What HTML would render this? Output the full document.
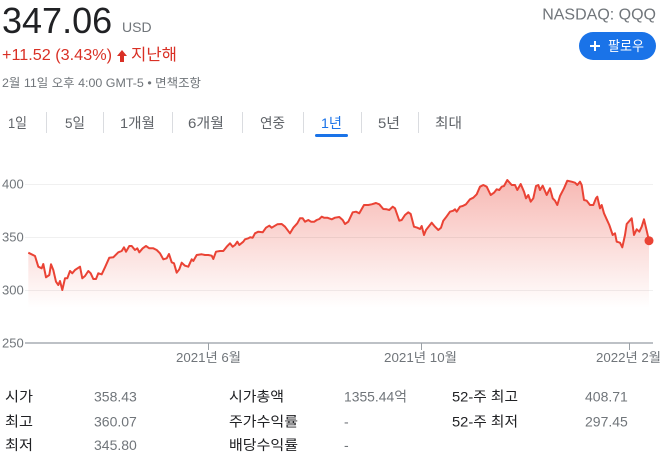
<!DOCTYPE html>
<html><head><meta charset="utf-8"><style>
html,body{margin:0;padding:0;background:#fff;width:667px;height:469px;overflow:hidden}
svg{display:block}
text{font-family:"Liberation Sans","Noto Sans CJK KR",sans-serif}
</style></head><body>
<svg width="667" height="469" viewBox="0 0 667 469" xmlns="http://www.w3.org/2000/svg">
<defs>
<linearGradient id="fg" gradientUnits="userSpaceOnUse" x1="0" y1="178" x2="0" y2="308">
<stop offset="0" stop-color="#ea4335" stop-opacity="0.38"/>
<stop offset="1" stop-color="#ea4335" stop-opacity="0"/>
</linearGradient>
</defs>
<!-- header -->
<text x="2" y="33" font-size="36" fill="#202124">347.06</text>
<text x="122" y="32" font-size="14" fill="#70757a">USD</text>
<text x="656" y="19.5" font-size="16" fill="#70757a" text-anchor="end">NASDAQ: QQQ</text>
<rect x="579" y="32" width="77" height="28" rx="14" fill="#1a73e8"/>
<path d="M590 46H600M595 41V51" stroke="#fff" stroke-width="2"/>
<text x="608" y="51" font-size="14" fill="#fff" textLength="36" lengthAdjust="spacingAndGlyphs">팔로우</text>
<text x="2" y="60" font-size="16" fill="#d93025" textLength="110" lengthAdjust="spacingAndGlyphs">+11.52 (3.43%)</text>
<path d="M122 50L127 56H124V62H120V56H117Z" fill="#d93025"/>
<text x="131" y="60" font-size="16" fill="#d93025" textLength="46" lengthAdjust="spacingAndGlyphs">지난해</text>
<text x="2" y="87" font-size="12" fill="#70757a" textLength="199" lengthAdjust="spacingAndGlyphs">2월 11일 오후 4:00 GMT-5 • 면책조항</text>
<!-- tabs -->
<g font-size="14" fill="#5f6368">
<text x="8" y="128" textLength="19" lengthAdjust="spacingAndGlyphs">1일</text>
<text x="65" y="128" textLength="20" lengthAdjust="spacingAndGlyphs">5일</text>
<text x="120" y="128" textLength="35" lengthAdjust="spacingAndGlyphs">1개월</text>
<text x="188" y="128" textLength="36" lengthAdjust="spacingAndGlyphs">6개월</text>
<text x="260" y="128" textLength="25" lengthAdjust="spacingAndGlyphs">연중</text>
<text x="321" y="128" textLength="21" lengthAdjust="spacingAndGlyphs" fill="#1a73e8">1년</text>
<text x="378" y="128" textLength="22" lengthAdjust="spacingAndGlyphs">5년</text>
<text x="435" y="128" textLength="27" lengthAdjust="spacingAndGlyphs">최대</text>
</g>
<g stroke="#dadce0" stroke-width="1">
<line x1="46.5" y1="112" x2="46.5" y2="133"/>
<line x1="103.5" y1="112" x2="103.5" y2="133"/>
<line x1="172.5" y1="112" x2="172.5" y2="133"/>
<line x1="242.5" y1="112" x2="242.5" y2="133"/>
<line x1="303.5" y1="112" x2="303.5" y2="133"/>
<line x1="361.5" y1="112" x2="361.5" y2="133"/>
<line x1="418.5" y1="112" x2="418.5" y2="133"/>
</g>
<rect x="315" y="134" width="33" height="3" rx="1.5" fill="#1a73e8"/>
<!-- chart -->
<polygon fill="url(#fg)" points="28.3,252.7 35,256 38.3,266.7 41.7,268.3 43.3,264 46,277.3 49.3,275 51,264.3 53.3,270 56,281.7 58.3,285 60,281 62.3,290 65,278.3 67.3,278.3 70,271 72.3,273.3 75,270 80,266.7 82.3,278.3 85,276 88.3,271 90.7,273.3 93.3,279 96,279 98.3,273.3 101.7,274.3 105,267.3 109.3,257.7 113.3,257.3 118.3,252.3 121.7,251 124,247.3 126,251.7 129.3,246 131.7,246 135,250 137.3,248.3 139.3,252.3 142.7,248.3 146,246 149.3,248.3 153.3,248.3 156.7,250 160,253.3 163.3,259.3 166.7,258.3 169,254 171.7,262.3 174,263.3 176.7,272.7 179.3,269.3 181.7,262.7 185,265.7 188.3,266.7 191.7,259.3 193.3,261 196.7,255 201.7,254.3 205,255 208.3,255 211.7,255.7 213.3,259 216,251.7 220,251 223.3,251 226.7,246.7 230,243.3 232.7,246.7 235,245 237.3,241.7 239.3,245 243.3,241.7 245,239.3 248.3,238.3 250,237.3 252.7,237.7 255,233.3 258.3,231.7 262.7,232.3 266,227.7 269.3,225.7 271.7,227.7 275,225.7 277.3,224.3 281.7,224 285,226.7 290,233.3 293.3,227.7 297.3,223.3 300,218.3 302.7,218.3 305,221.7 308.3,220 311,221.7 314.3,221.7 316.7,220 319.3,219 321.7,216.7 324,217.7 327.3,217.7 331.7,219.3 335,217.7 339.3,217 342.7,220 345,224 348.3,221.7 352.7,212.3 356,211.7 359.3,213.3 364,205 368.3,205 371.7,204.3 376,203 379.3,204.3 383.3,209 386.7,209.3 389.3,210 392.7,206.7 395,208.3 399.3,220.7 401.7,220 405,215 408.3,212.3 410.7,214 414,226.7 417.3,227.7 420,229 421.7,226 424,235 426,230 431.7,222.7 435,226.7 438.3,230 441,227.7 443.3,220.7 446,217.3 450,211.7 453.3,210.7 455,209.3 456.7,211.7 460,206.7 462.7,206 466,204.3 470,199.3 473.3,197.7 476.7,194.3 480,186.7 483.3,185 486.7,186.7 490.7,195 494,192.7 496.7,189.3 499.3,190 501.7,186.7 504,186 507.3,180 511.7,185 515,185 517.3,190 520.7,184 524,191.7 526,198.3 528.3,195 530.7,201.7 533.3,198.3 536,186 538.3,185 540,190 542.7,185.7 546.7,195 550,188.3 552.7,198.3 555,200.7 557.3,205 560,196 564,188.3 567.3,180.7 571.7,181.7 575,182.7 577.3,185 580,181.7 581.7,185 584,200 586.7,200.7 590,205 593.3,205 596,198.3 597.3,196.7 600,208.3 601.7,205 604,213.3 606.7,219.3 609.3,225 612.7,235 615,233.3 616.7,241.7 620,242.7 622.3,247.3 625,235 626.7,224 631.7,218.3 634,235 636.7,229.3 639.3,231.7 641.7,226.7 644,219.3 646.7,230.7 649,240.7 649,342 28.3,342"/>
<g stroke="#000" stroke-opacity="0.06" stroke-width="1">
<line x1="25" y1="184.5" x2="653" y2="184.5"/>
<line x1="25" y1="237.5" x2="653" y2="237.5"/>
<line x1="25" y1="290.5" x2="653" y2="290.5"/>
</g>
<polyline fill="none" stroke="#ea4335" stroke-width="2" stroke-linejoin="round" points="28.3,252.7 35,256 38.3,266.7 41.7,268.3 43.3,264 46,277.3 49.3,275 51,264.3 53.3,270 56,281.7 58.3,285 60,281 62.3,290 65,278.3 67.3,278.3 70,271 72.3,273.3 75,270 80,266.7 82.3,278.3 85,276 88.3,271 90.7,273.3 93.3,279 96,279 98.3,273.3 101.7,274.3 105,267.3 109.3,257.7 113.3,257.3 118.3,252.3 121.7,251 124,247.3 126,251.7 129.3,246 131.7,246 135,250 137.3,248.3 139.3,252.3 142.7,248.3 146,246 149.3,248.3 153.3,248.3 156.7,250 160,253.3 163.3,259.3 166.7,258.3 169,254 171.7,262.3 174,263.3 176.7,272.7 179.3,269.3 181.7,262.7 185,265.7 188.3,266.7 191.7,259.3 193.3,261 196.7,255 201.7,254.3 205,255 208.3,255 211.7,255.7 213.3,259 216,251.7 220,251 223.3,251 226.7,246.7 230,243.3 232.7,246.7 235,245 237.3,241.7 239.3,245 243.3,241.7 245,239.3 248.3,238.3 250,237.3 252.7,237.7 255,233.3 258.3,231.7 262.7,232.3 266,227.7 269.3,225.7 271.7,227.7 275,225.7 277.3,224.3 281.7,224 285,226.7 290,233.3 293.3,227.7 297.3,223.3 300,218.3 302.7,218.3 305,221.7 308.3,220 311,221.7 314.3,221.7 316.7,220 319.3,219 321.7,216.7 324,217.7 327.3,217.7 331.7,219.3 335,217.7 339.3,217 342.7,220 345,224 348.3,221.7 352.7,212.3 356,211.7 359.3,213.3 364,205 368.3,205 371.7,204.3 376,203 379.3,204.3 383.3,209 386.7,209.3 389.3,210 392.7,206.7 395,208.3 399.3,220.7 401.7,220 405,215 408.3,212.3 410.7,214 414,226.7 417.3,227.7 420,229 421.7,226 424,235 426,230 431.7,222.7 435,226.7 438.3,230 441,227.7 443.3,220.7 446,217.3 450,211.7 453.3,210.7 455,209.3 456.7,211.7 460,206.7 462.7,206 466,204.3 470,199.3 473.3,197.7 476.7,194.3 480,186.7 483.3,185 486.7,186.7 490.7,195 494,192.7 496.7,189.3 499.3,190 501.7,186.7 504,186 507.3,180 511.7,185 515,185 517.3,190 520.7,184 524,191.7 526,198.3 528.3,195 530.7,201.7 533.3,198.3 536,186 538.3,185 540,190 542.7,185.7 546.7,195 550,188.3 552.7,198.3 555,200.7 557.3,205 560,196 564,188.3 567.3,180.7 571.7,181.7 575,182.7 577.3,185 580,181.7 581.7,185 584,200 586.7,200.7 590,205 593.3,205 596,198.3 597.3,196.7 600,208.3 601.7,205 604,213.3 606.7,219.3 609.3,225 612.7,235 615,233.3 616.7,241.7 620,242.7 622.3,247.3 625,235 626.7,224 631.7,218.3 634,235 636.7,229.3 639.3,231.7 641.7,226.7 644,219.3 646.7,230.7 649,240.7"/>
<circle cx="649" cy="240.7" r="4.5" fill="#ea4335"/>
<!-- axis -->
<line x1="25" y1="343" x2="653" y2="343" stroke="#bdc1c6" stroke-width="2"/>
<g stroke="#9aa0a6" stroke-width="1">
<line x1="208.5" y1="343" x2="208.5" y2="350"/>
<line x1="421.5" y1="343" x2="421.5" y2="350"/>
<line x1="629.5" y1="343" x2="629.5" y2="350"/>
</g>
<g font-size="13" fill="#70757a">
<text x="2" y="188.5">400</text>
<text x="2" y="241.5">350</text>
<text x="2" y="294.5">300</text>
<text x="2" y="347.5">250</text>
<text x="176" y="362" textLength="65" lengthAdjust="spacingAndGlyphs">2021년 6월</text>
<text x="384" y="362" textLength="73" lengthAdjust="spacingAndGlyphs">2021년 10월</text>
<text x="596" y="362" textLength="65" lengthAdjust="spacingAndGlyphs">2022년 2월</text>
</g>
<!-- stats -->
<g font-size="14">
<g fill="#202124">
<text x="5" y="401.5" textLength="28" lengthAdjust="spacingAndGlyphs">시가</text>
<text x="5" y="426.5" textLength="28" lengthAdjust="spacingAndGlyphs">최고</text>
<text x="5" y="450" textLength="28" lengthAdjust="spacingAndGlyphs">최저</text>
<text x="229" y="401.5" textLength="55" lengthAdjust="spacingAndGlyphs">시가총액</text>
<text x="229" y="426.5" textLength="69" lengthAdjust="spacingAndGlyphs">주가수익률</text>
<text x="229" y="450" textLength="69" lengthAdjust="spacingAndGlyphs">배당수익률</text>
<text x="452" y="401.5" textLength="66" lengthAdjust="spacingAndGlyphs">52-주 최고</text>
<text x="452" y="426.5" textLength="66" lengthAdjust="spacingAndGlyphs">52-주 최저</text>
</g>
<g fill="#70757a">
<text x="94" y="401.5">358.43</text>
<text x="94" y="426.5">360.07</text>
<text x="94" y="450">345.80</text>
<text x="344" y="401.5" textLength="63" lengthAdjust="spacingAndGlyphs">1355.44억</text>
<text x="344" y="426.5">-</text>
<text x="344" y="450">-</text>
<text x="585" y="401.5">408.71</text>
<text x="585" y="426.5">297.45</text>
</g>
</g>
</svg>
</body></html>
